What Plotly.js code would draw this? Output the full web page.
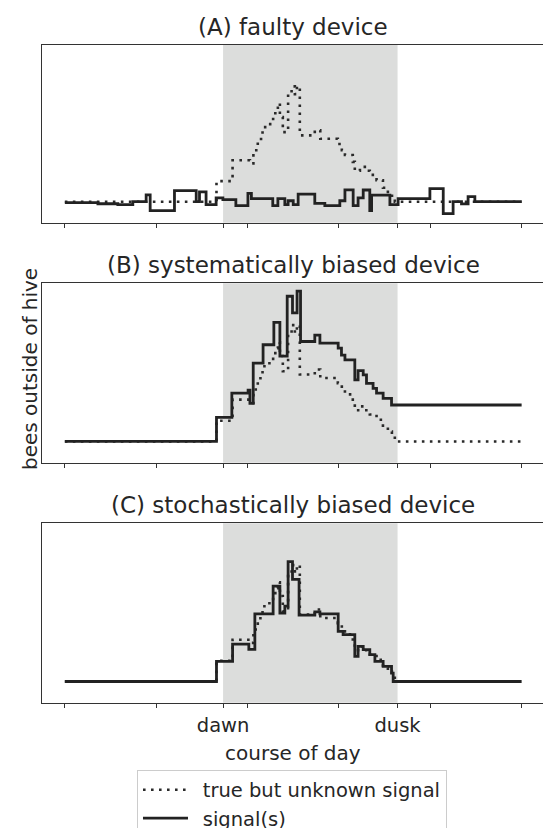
<!DOCTYPE html>
<html>
<head>
<meta charset="utf-8">
<script src="https://cdn.plot.ly/plotly-3.0.1.min.js"></script>
<style>html,body{margin:0;padding:0;background:#fff;}#chart{width:543px;height:828px;}</style>
</head>
<body>
<div id="chart"></div>
<script>
// x in hours of the day (tick marks every 5 h), y in bees outside of hive
const DAWN = 8.66;
const DUSK = 18.21;
const tickHours = [0, 5, 10, 15, 20, 25];
const dayLabels = ['dawn', 'dusk'];
const panelTitles = ['(A) faulty device', '(B) systematically biased device', '(C) stochastically biased device'];
const legendNames = ['true but unknown signal', 'signal(s)'];

// true but unknown signal (same in every panel)
const trueX = [0, 8.30, 9.18, 10.13, 10.32, 10.56, 10.82, 11.04, 11.33, 11.40, 11.52, 11.66, 11.77, 11.93, 12.22, 12.41, 12.59, 12.70, 12.86, 13.68, 13.98, 14.94, 15.16, 15.33, 15.76, 15.87, 16.15, 16.42, 16.69, 17.06, 17.41, 17.68, 17.90, 18.06, 25];
const trueY = [0, 9.0, 18.1, 16.7, 22.5, 27.4, 32.6, 33.9, 34.8, 37.7, 40.4, 43.0, 37.0, 30.4, 47.0, 50.4, 47.0, 50.4, 29.0, 31.2, 27.5, 25.2, 22.5, 20.4, 17.4, 13.5, 15.2, 13.5, 11.7, 9.4, 6.1, 4.3, 2.6, 0, 0];

// (A) faulty device
const faultX = [0, 1.81, 2.90, 3.72, 4.45, 4.67, 6.00, 7.19, 7.37, 7.73, 8.28, 8.65, 9.36, 10.02, 10.21, 11.38, 11.66, 12.04, 12.22, 12.50, 12.77, 13.68, 14.23, 15.05, 15.33, 15.78, 16.05, 16.33, 16.69, 16.79, 17.79, 18.24, 19.98, 20.71, 21.25, 21.71, 22.07, 22.44, 25];
const faultY = [-0.4, -0.9, -1.3, 0, 3.0, -3.9, 4.8, 0, 4.3, -1.3, 1.7, 0.9, -1.7, 3.6, 1.3, -1.7, 1.3, -1.3, 0.4, -1.3, 3.3, -0.7, -1.7, 0.4, 5.2, -1.7, 1.7, 5.1, -3.9, 2.9, -1.3, 1.3, 5.7, -5.2, 0, -1.0, 2.2, 0, 0];

// (B) systematically biased device
const biasX = [0, 8.30, 9.14, 10.03, 10.13, 10.31, 10.85, 11.44, 11.77, 12.17, 12.46, 12.71, 12.90, 13.68, 13.96, 14.96, 15.14, 15.33, 15.87, 16.05, 16.33, 16.51, 16.87, 17.06, 17.42, 17.88, 25];
const biasY = [0, 10.4, 20.9, 22.2, 16.5, 33.9, 41.9, 51.6, 37.0, 62.9, 55.7, 65.1, 43.3, 46.1, 42.6, 40.4, 37.4, 35.3, 26.7, 30.7, 28.8, 25.2, 23.0, 20.9, 18.7, 15.8, 15.8];

// (C) stochastically biased device
const stochX = [0, 8.30, 9.18, 10.07, 10.40, 11.40, 11.77, 12.04, 12.22, 12.46, 12.82, 13.68, 13.96, 14.96, 15.23, 15.87, 16.05, 16.33, 16.69, 16.97, 17.42, 17.88, 17.97, 25];
const stochY = [0, 8.7, 16.2, 13.9, 29.3, 41.3, 29.6, 32.6, 51.9, 44.2, 28.7, 30.1, 29.3, 21.7, 20.3, 10.9, 15.2, 13.8, 11.6, 8.7, 6.5, 3.6, 0, 0];

const signals = [[faultX, faultY], [biasX, biasY], [stochX, stochY]];

const INK = '#222222';
const SPINE = '#333333';
const FONT = 'DejaVu Sans, sans-serif';
const domains = [[0.7310, 0.9457], [0.4412, 0.6578], [0.1513, 0.3680]];
const xRange = [-1.25, 26.17];
const yRange = [-9.2, 68.5];

const traces = [];
const layout = {
  width: 543, height: 828,
  margin: {l: 42, r: 0, t: 0, b: 0, autoexpand: false},
  paper_bgcolor: '#ffffff', plot_bgcolor: '#ffffff',
  font: {family: FONT, color: '#262626', size: 19.5},
  showlegend: true,
  legend: {
    x: 0.1896, y: 0.0705, xanchor: 'left', yanchor: 'top',
    bgcolor: '#ffffff', bordercolor: '#cccccc', borderwidth: 1,
    font: {family: FONT, size: 19.5, color: '#262626'},
    itemwidth: 45, tracegroupgap: 0
  },
  shapes: [], annotations: []
};

const tickVals = tickHours.concat([DAWN, DUSK]);

for (let i = 0; i < 3; i++) {
  const sfx = i === 0 ? '' : String(i + 1);
  const xa = 'x' + sfx, ya = 'y' + sfx;
  traces.push({
    x: trueX, y: trueY, xaxis: xa, yaxis: ya, type: 'scatter', mode: 'lines',
    line: {shape: 'hv', color: '#2a2a2a', width: 2.6, dash: '2.6px,5.4px'},
    name: '\u2002' + legendNames[0], legendgroup: 'true', showlegend: i === 0, hoverinfo: 'skip'
  });
  traces.push({
    x: signals[i][0], y: signals[i][1], xaxis: xa, yaxis: ya, type: 'scatter', mode: 'lines',
    line: {shape: 'hv', color: INK, width: 2.8},
    name: '\u2002' + legendNames[1], legendgroup: 'sig', showlegend: i === 0, hoverinfo: 'skip'
  });
  const isBottom = i === 2;
  layout['xaxis' + sfx] = {
    domain: [0, 1], anchor: ya, range: xRange, fixedrange: true,
    showgrid: false, zeroline: false,
    showline: true, mirror: true, linecolor: SPINE, linewidth: 1.3,
    ticks: 'outside', ticklen: 4, tickwidth: 1.1, tickcolor: SPINE,
    tickmode: 'array', tickvals: tickVals,
    ticktext: tickHours.map(() => '').concat(dayLabels),
    showticklabels: isBottom, ticklabelstandoff: 1,
    tickfont: {family: FONT, size: 19.5, color: '#262626'}
  };
  layout['yaxis' + sfx] = {
    domain: domains[i], anchor: xa, range: yRange, fixedrange: true,
    showgrid: false, zeroline: false, showline: true, linecolor: SPINE, linewidth: 1.3,
    ticks: '', showticklabels: false
  };
  layout.shapes.push({
    type: 'rect', xref: xa, yref: ya + ' domain', x0: DAWN, x1: DUSK, y0: 0, y1: 1,
    fillcolor: 'rgb(220,221,220)', line: {width: 0}, layer: 'below'
  });
  const titleCenters = [27, 265, 505];
  layout.annotations.push({
    text: panelTitles[i], xref: xa, yref: 'paper', x: 12.5, y: 1 - titleCenters[i] / 828,
    xanchor: 'center', yanchor: 'middle', showarrow: false,
    font: {family: FONT, size: 23, color: '#262626'}
  });
}

layout.annotations.push({
  text: 'bees outside of hive', xref: 'paper', yref: 'paper',
  x: (30 - 42) / 501, y: 1 - 369 / 828, xanchor: 'center', yanchor: 'middle',
  textangle: -90, showarrow: false, font: {family: FONT, size: 20, color: '#262626'}
});
layout.annotations.push({
  text: 'course of day', xref: 'x3', yref: 'paper', x: 12.5, y: 1 - 752.5 / 828,
  xanchor: 'center', yanchor: 'middle', showarrow: false,
  font: {family: FONT, size: 20, color: '#262626'}
});

Plotly.newPlot('chart', traces, layout, {staticPlot: true, displayModeBar: false});
</script>
</body>
</html>
